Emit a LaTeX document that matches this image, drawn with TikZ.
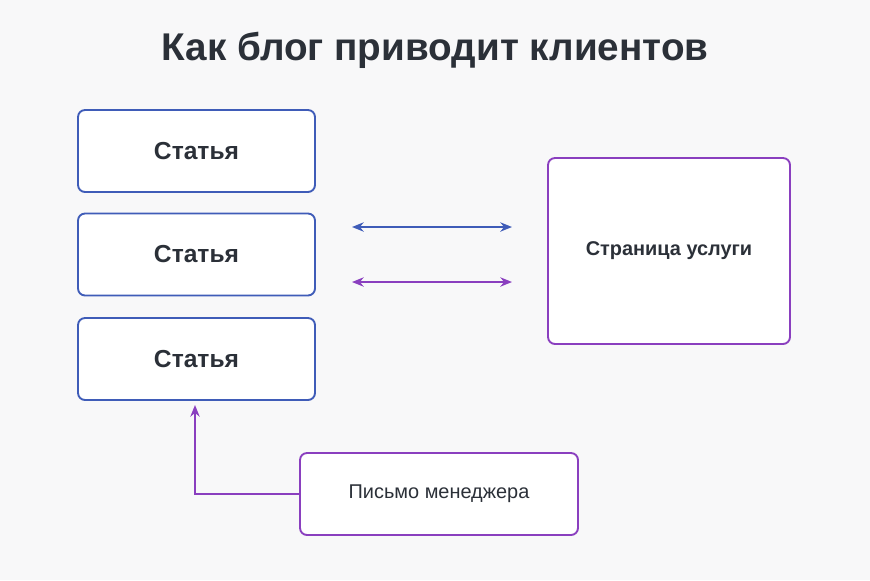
\documentclass[tikz,border=0pt]{standalone}
\usepackage{fontspec}
\setmainfont{Liberation Sans}
\usetikzlibrary{positioning, arrows.meta}
\definecolor{bluebox}{HTML}{3F5CB8}
\definecolor{purplebox}{HTML}{8A3FBF}
\definecolor{titletext}{HTML}{2B3038}
\definecolor{bg}{HTML}{F8F8F9}
\tikzset{
	box/.style={draw, rounded corners=6pt, line width=1.6pt, fill=white, text=titletext, font=\fontsize{21}{24}\selectfont\bfseries},
	link/.style={line width=1.6pt},
}
\begin{document}
\begin{tikzpicture}[x=0.03cm, y=-0.03cm, >={Stealth[length=10pt, width=8pt]}]
	\fill[bg] (0, 0) rectangle (870, 580);
	\useasboundingbox (0, 0) rectangle (870, 580);

	\node[text=titletext, font=\fontsize{33}{38}\selectfont\bfseries] (title) at (435, 50) {Как блог приводит клиентов};

	\node[box, draw=bluebox, minimum width=237*0.03cm, minimum height=82*0.03cm] (art1) at (196.5, 151) {Статья};
	\node[box, draw=bluebox, minimum width=237*0.03cm, minimum height=82*0.03cm] (art2) at (196.5, 254.5) {Статья};
	\node[box, draw=bluebox, minimum width=237*0.03cm, minimum height=82*0.03cm] (art3) at (196.5, 359) {Статья};
	\node[box, draw=purplebox, minimum width=242*0.03cm, minimum height=186*0.03cm, font=\fontsize{17}{20}\selectfont\bfseries] (service) at (669, 251) {Страница услуги};
	\node[box, draw=purplebox, minimum width=278*0.03cm, minimum height=82*0.03cm, font=\fontsize{17}{20}\selectfont] (letter) at (439, 494) {Письмо менеджера};

	\coordinate (b1) at (352, 227);
	\coordinate (b2) at (512, 227);
	\coordinate (p1) at (352, 282);
	\coordinate (p2) at (512, 282);
	\coordinate (up) at (195, 405);

	\draw[<->, bluebox, link] (b1) -- (b2);
	\draw[<->, purplebox, link] (p1) -- (p2);
	\draw[->, purplebox, link] (letter.west) -| (up);
\end{tikzpicture}
\end{document}
